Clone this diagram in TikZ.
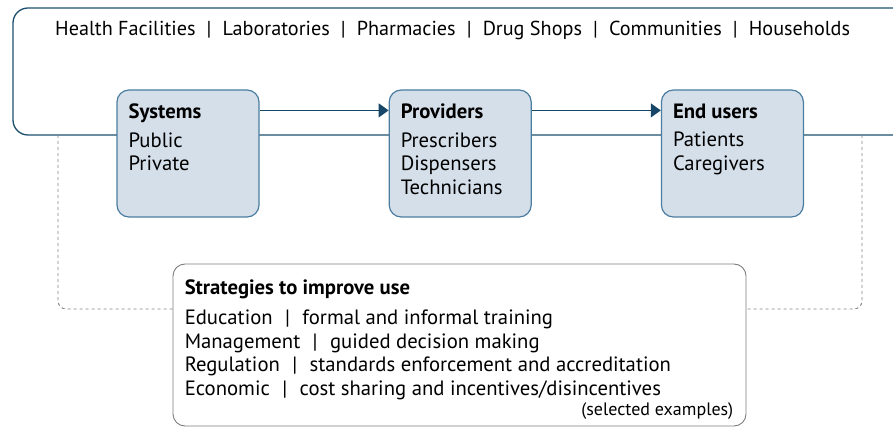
\documentclass[tikz,border=0pt]{standalone}
\usepackage{fontspec}
\setmainfont{PT Sans}
\usetikzlibrary{positioning,arrows.meta}

\definecolor{framec}{RGB}{28,78,110}
\definecolor{boxfill}{RGB}{213,223,234}
\definecolor{boxline}{RGB}{74,125,160}
\definecolor{arrowc}{RGB}{22,70,104}
\definecolor{dashc}{RGB}{130,130,130}
\definecolor{stratline}{RGB}{125,125,125}
\newcommand{\barsep}{\hspace{0.6em}|\hspace{0.6em}}

\begin{document}
\begin{tikzpicture}[
    x=1pt, y=-1pt,
    node distance=129pt,
    box/.style={draw=boxline, line width=1.2pt, fill=boxfill, rounded corners=12pt, minimum width=142pt, minimum height=127pt, inner sep=0pt},
    boxtext/.style={anchor=north west, align=left, inner sep=0pt, font=\fontsize{20.7}{23.8}\selectfont},
    flow/.style={draw=arrowc, line width=1.2pt, -{Triangle[length=10pt,width=14pt]}},
    link/.style={draw=dashc, dashed, line width=0.9pt, rounded corners=8pt}
]
\useasboundingbox (0,0) rectangle (893,427);

% settings frame
\draw[framec, line width=1.3pt, rounded corners=15pt] (895,8) -- (13,8) -- (13,135) -- (895,135);
\node[anchor=base west, inner sep=0pt, font=\fontsize{20.2}{24}\selectfont] (places) at (55,36)
    {Health Facilities\hspace{0.55em}|\hspace{0.55em}Laboratories\hspace{0.55em}|\hspace{0.55em}Pharmacies\hspace{0.55em}|\hspace{0.55em}Drug Shops\hspace{0.55em}|\hspace{0.55em}Communities\hspace{0.55em}|\hspace{0.55em}Households};

\node[box] (systems) at (188,153.5) {};
\node[box, right=of systems] (providers) {};
\node[box, right=of providers] (endusers) {};

\node[boxtext] at ([xshift=12pt,yshift=-14pt]systems.north west) {\textbf{Systems}\\[5pt] Public\\ Private};
\node[boxtext] at ([xshift=12pt,yshift=-14pt]providers.north west) {\textbf{Providers}\\[5pt] Prescribers\\ Dispensers\\ Technicians};
\node[boxtext] at ([xshift=12pt,yshift=-14pt]endusers.north west) {\textbf{End users}\\[5pt] Patients\\ Caregivers};

\draw[flow] ([yshift=-21pt]systems.north east) -- ([yshift=-21pt]providers.north west);
\draw[flow] ([yshift=-21pt]providers.north east) -- ([yshift=-21pt]endusers.north west);

% strategies
\node[draw=stratline, line width=0.9pt, rounded corners=12pt, minimum width=573pt, minimum height=162pt, inner sep=0pt] (strategies) at (459.5,345) {};
\node[boxtext] (stratlist) at ([xshift=12pt,yshift=-16pt]strategies.north west)
    {\textbf{Strategies to improve use}\\[6pt]
     Education\barsep formal and informal training\\
     Management\barsep guided decision making\\
     Regulation\barsep standards enforcement and accreditation\\
     Economic\barsep cost sharing and incentives/disincentives};
\node[anchor=base east, inner sep=0pt, font=\fontsize{18}{21}\selectfont] (note) at ([xshift=-13pt,yshift=11pt]strategies.south east) {(selected examples)};

\coordinate (leftdrop) at (58,135);
\coordinate (rightdrop) at (862,135);
\draw[link] (leftdrop) |- ([yshift=36pt]strategies.west);
\draw[link] (rightdrop) |- ([yshift=36pt]strategies.east);

\end{tikzpicture}
\end{document}
